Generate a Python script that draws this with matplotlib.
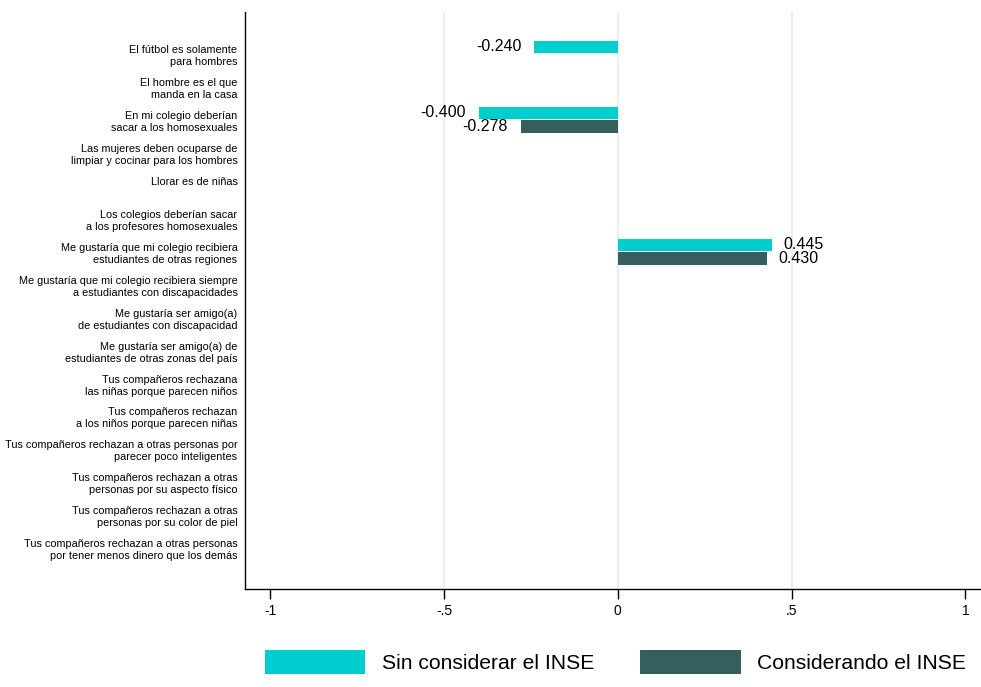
import numpy as np
import matplotlib
matplotlib.use("Agg")
import matplotlib.pyplot as plt
from matplotlib.patches import Patch

plt.rcParams['font.family'] = ['Liberation Sans', 'DejaVu Sans']

# --- datos ---
categorias = [
    "El fútbol es solamente\npara hombres",
    "El hombre es el que\nmanda en la casa",
    "En mi colegio deberían\nsacar a los homosexuales",
    "Las mujeres deben ocuparse de\nlimpiar y cocinar para los hombres",
    "Llorar es de niñas\n ",
    "Los colegios deberían sacar\na los profesores homosexuales",
    "Me gustaría que mi colegio recibiera\nestudiantes de otras regiones",
    "Me gustaría que mi colegio recibiera siempre\na estudiantes con discapacidades",
    "Me gustaría ser amigo(a)\nde estudiantes con discapacidad",
    "Me gustaría ser amigo(a) de\nestudiantes de otras zonas del país",
    "Tus compañeros rechazana\nlas niñas porque parecen niños",
    "Tus compañeros rechazan\na los niños porque parecen niñas",
    "Tus compañeros rechazan a otras personas por\nparecer poco inteligentes",
    "Tus compañeros rechazan a otras\npersonas por su aspecto físico",
    "Tus compañeros rechazan a otras\npersonas por su color de piel",
    "Tus compañeros rechazan a otras personas\npor tener menos dinero que los demás",
]
nan = np.nan
sin_inse = [-0.240, nan, -0.400, nan, nan, nan, 0.445, nan,
            nan, nan, nan, nan, nan, nan, nan, nan]
con_inse = [nan, nan, -0.278, nan, nan, nan, 0.430, nan,
            nan, nan, nan, nan, nan, nan, nan, nan]
series = ["Sin considerar el INSE", "Considerando el INSE"]
colores = ["#00CDCD", "#345F5E"]
xticks = [-1, -0.5, 0, 0.5, 1]
xticklabels = ["-1", "-.5", "0", ".5", "1"]

# --- figura ---
fig = plt.figure(figsize=(9.81, 6.87), dpi=100)
ax = fig.add_axes([0.2497, 0.1426, 0.7503, 0.8399])

y = np.arange(len(categorias))
alto = 0.38
desp = 0.205

for vals, off, col in [(sin_inse, -desp, colores[0]), (con_inse, desp, colores[1])]:
    vals = np.array(vals, dtype=float)
    ok = ~np.isnan(vals)
    ax.barh(y[ok] + off, vals[ok], height=alto, color=col, zorder=3)
    for yy, v in zip(y[ok] + off, vals[ok]):
        if v < 0:
            ax.annotate(f"{v:.3f}", (v, yy), xytext=(-9.5, 0), textcoords="offset points",
                        ha="right", va="center", fontsize=11.5)
        else:
            ax.annotate(f"{v:.3f}", (v, yy), xytext=(8, 0), textcoords="offset points",
                        ha="left", va="center", fontsize=11.5)

ax.set_xlim(-1.073, 1.045)
ax.set_ylim(len(categorias) - 1 + 1.23, -1.26)

ax.set_yticks(y)
ax.set_yticklabels(categorias, fontsize=7.8, linespacing=1.25)
ax.tick_params(axis="y", length=0, pad=5.4)

ax.set_xticks(xticks)
ax.set_xticklabels(xticklabels, fontsize=10)
ax.tick_params(axis="x", length=7.2, width=1.0, pad=3.6)

# lineas de grilla solo en -.5, 0, .5
for g in [-0.5, 0, 0.5]:
    ax.axvline(g, color="#E6EFF2", linewidth=1.5, zorder=1)

ax.spines["top"].set_visible(False)
ax.spines["right"].set_visible(False)
ax.spines["left"].set_linewidth(1.0)
ax.spines["bottom"].set_linewidth(1.0)

handles = [Patch(facecolor=colores[0]), Patch(facecolor=colores[1])]
fig.legend(handles, series, loc="center", bbox_to_anchor=(0.6274, 0.0364),
           ncol=2, frameon=False, fontsize=15.2, handlelength=4.75, handleheight=1.33,
           handletextpad=0.77, columnspacing=2.2, borderpad=0, borderaxespad=0)

fig.savefig("out.png", dpi=100)
